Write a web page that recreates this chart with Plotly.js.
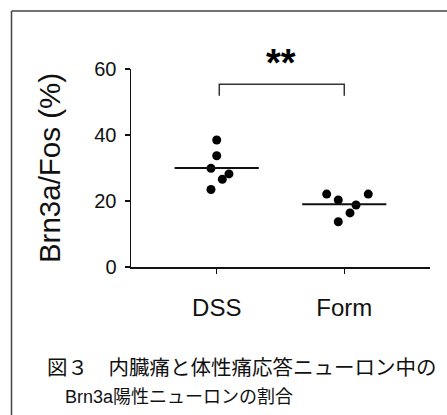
<!DOCTYPE html>
<html>
<head>
<meta charset="utf-8">
<script src="https://cdn.plot.ly/plotly-3.0.1.min.js"></script>
<style>
html,body{margin:0;padding:0;background:#fff;}
#chart{width:447px;height:415px;}
</style>
</head>
<body>
<div id="chart"></div>
<script>
// ---- data ----
const categories = ["DSS", "Form"];
const dssValues = [38.5, 33.7, 29.9, 28.2, 26.6, 23.5];
const formValues = [22.1, 20.3, 22.1, 18.8, 16.4, 13.7];
const means = [30.0, 19.0];
const yTickValues = [0, 20, 40, 60];
const yTitle = "Brn3a/Fos (%)";
const significance = "**";
const captionLine1 = "図３　内臓痛と体性痛応答ニューロン中の";
const captionLine2 = "Brn3a陽性ニューロンの割合";

// ---- layout helpers (pixels of the page) ----
const W = 447, H = 415;
const M = {l: 131, r: 17, t: 69, b: 148};
const pw = W - M.l - M.r, ph = H - M.t - M.b;
const px2x = p => (p - M.l) / pw;
const py2y = p => (H - M.b - p) / ph;

const jitter = [
  [0, 0, -0.045, 0.096, 0.044, -0.045],
  [-0.138, -0.047, 0.188, 0.092, 0.045, -0.047]
];
const groups = [dssValues, formValues];
const traces = [];
groups.forEach((vals, i) => {
  traces.push({
    type: "scatter", mode: "markers",
    x: vals.map((v, k) => i + jitter[i][k]), y: vals,
    marker: {color: "#000", size: 9},
    hoverinfo: "y", showlegend: false
  });
  traces.push({
    type: "scatter", mode: "lines",
    x: [i - 0.33, i + 0.33], y: [means[i], means[i]],
    line: {color: "#111", width: 2},
    hoverinfo: "skip", showlegend: false
  });
});
// significance bracket
traces.push({
  type: "scatter", mode: "lines",
  x: [0.02, 0.02, 1, 1], y: [51.9, 55.4, 55.4, 51.9],
  line: {color: "#333", width: 1.5},
  hoverinfo: "skip", showlegend: false
});

const txt = "#111";
const latin = "Liberation Sans, Arial, Helvetica, sans-serif";
const cjk = "Liberation Sans, Noto Sans CJK JP, sans-serif";

const layout = {
  width: W, height: H,
  margin: M,
  paper_bgcolor: "#fff", plot_bgcolor: "#fff",
  showlegend: false,
  xaxis: {
    range: [-0.672, 1.672],
    tickvals: [0, 1], ticktext: categories,
    ticks: "outside", ticklen: 5, tickwidth: 1.5, tickcolor: "#111",
    showline: true, linecolor: "#111", linewidth: 1.5,
    showgrid: false, zeroline: false,
    tickfont: {family: latin, size: 24, color: txt},
    ticklabelstandoff: 14
  },
  yaxis: {
    range: [0, 60],
    tickvals: yTickValues,
    ticks: "outside", ticklen: 5, tickwidth: 1.5, tickcolor: "#111",
    showline: true, linecolor: "#111", linewidth: 1.5,
    showgrid: false, zeroline: false,
    tickfont: {family: latin, size: 20, color: txt},
    ticklabelstandoff: 4,
    title: {text: yTitle, font: {family: latin, size: 29.5, color: txt}, standoff: 25}
  },
  annotations: [
    {x: 0.5, y: 57.5, xref: "x", yref: "y", text: significance, showarrow: false,
     font: {family: latin, size: 38, color: "#000", weight: "bold"}, yanchor: "middle", yshift: 14},
    {x: px2x(45), y: py2y(367), xref: "paper", yref: "paper", text: captionLine1, showarrow: false,
     xanchor: "left", yanchor: "middle", font: {family: cjk, size: 20.5, color: txt}},
    {x: px2x(63), y: py2y(397), xref: "paper", yref: "paper", text: captionLine2, showarrow: false,
     xanchor: "left", yanchor: "middle", font: {family: cjk, size: 18, color: txt}}
  ],
  shapes: [
    {type: "line", xref: "paper", yref: "paper", x0: px2x(11.5), x1: px2x(11.5), y0: py2y(11), y1: py2y(430),
     line: {color: "#444", width: 1.5}},
    {type: "line", xref: "paper", yref: "paper", x0: px2x(11.5), x1: px2x(460), y0: py2y(11), y1: py2y(11),
     line: {color: "#444", width: 1.5}}
  ]
};

Plotly.newPlot("chart", traces, layout, {displayModeBar: false, staticPlot: true});
</script>
</body>
</html>
